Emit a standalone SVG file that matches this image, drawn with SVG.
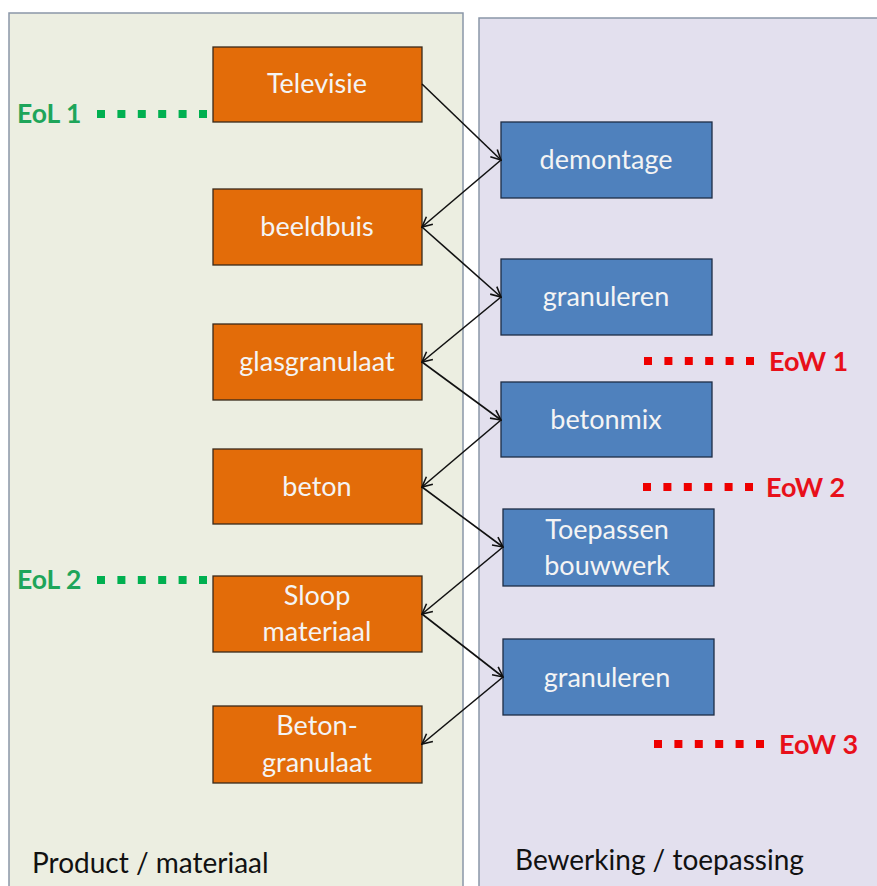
<svg xmlns="http://www.w3.org/2000/svg" width="877" height="886" viewBox="0 0 877 886">
<defs>
<style>
.panelL{fill:#ECEEE1;stroke:#8A97A8;stroke-width:1.5}
.panelR{fill:#E3E0EE;stroke:#8A97A8;stroke-width:1.5}
.org{fill:#E36C09;stroke:#3A2A1A;stroke-width:1.3}
.blu{fill:#4F81BD;stroke:#1E2D45;stroke-width:1.3}
.bt{font-family:Lato,"Open Sans",sans-serif;font-size:27px;fill:#F4F4F4;text-anchor:middle}
.pl{font-family:Lato,"Open Sans",sans-serif;font-size:28px;fill:#111}
.eol{font-family:Lato,"Open Sans",sans-serif;font-size:26.5px;font-weight:bold;fill:#1EA55A}
.eow{font-family:Lato,"Open Sans",sans-serif;font-size:27px;font-weight:bold;fill:#E8101A}
.gd{stroke:#00B050;stroke-width:8;stroke-dasharray:8 12.4}
.rd{stroke:#EE0000;stroke-width:8;stroke-dasharray:8 12.4}
.c{stroke:#111;stroke-width:1.6;fill:none;marker-end:url(#ah)}
</style>
<marker id="ah" viewBox="0 0 12 12" refX="11" refY="6" markerWidth="12" markerHeight="12" markerUnits="userSpaceOnUse" orient="auto">
<path d="M1,1 L11,6 L1,11" fill="none" stroke="#111" stroke-width="1.6"/>
</marker>
</defs>
<rect width="877" height="886" fill="#FFFFFF"/>
<rect class="panelL" x="9" y="13" width="454" height="890"/>
<rect class="panelR" x="479" y="18" width="420" height="890"/>
<text class="pl" x="32" y="873">Product / materiaal</text>
<text class="pl" x="515" y="870">Bewerking / toepassing</text>

<g id="eol1"><line class="gd" x1="97" y1="114" x2="207" y2="114"/><text class="eol" x="17" y="123">EoL 1</text></g>
<g id="eol2"><line class="gd" x1="97" y1="580" x2="207" y2="580"/><text class="eol" x="17" y="589">EoL 2</text></g>
<g id="eow1"><line class="rd" x1="644" y1="361" x2="754" y2="361"/><text class="eow" x="769" y="371">EoW 1</text></g>
<g id="eow2"><line class="rd" x1="643" y1="487" x2="753" y2="487"/><text class="eow" x="766" y="497">EoW 2</text></g>
<g id="eow3"><line class="rd" x1="654" y1="744" x2="764" y2="744"/><text class="eow" x="779" y="754">EoW 3</text></g>

<g id="televisie"><rect class="org" x="213" y="47" width="209" height="75"/><text class="bt" x="317" y="93">Televisie</text></g>
<g id="beeldbuis"><rect class="org" x="213" y="189" width="209" height="76"/><text class="bt" x="317" y="236">beeldbuis</text></g>
<g id="glasgranulaat"><rect class="org" x="213" y="324" width="209" height="76"/><text class="bt" x="317" y="371">glasgranulaat</text></g>
<g id="beton"><rect class="org" x="213" y="449" width="209" height="75"/><text class="bt" x="317" y="496">beton</text></g>
<g id="sloop"><rect class="org" x="213" y="576" width="209" height="76"/><text class="bt" x="317" y="605">Sloop</text><text class="bt" x="317" y="641">materiaal</text></g>
<g id="betongranulaat"><rect class="org" x="213" y="706" width="209" height="77"/><text class="bt" x="317" y="735">Beton-</text><text class="bt" x="317" y="772">granulaat</text></g>

<g id="demontage"><rect class="blu" x="501" y="122" width="211" height="76"/><text class="bt" x="606" y="169">demontage</text></g>
<g id="granuleren1"><rect class="blu" x="501" y="259" width="211" height="76"/><text class="bt" x="606" y="306">granuleren</text></g>
<g id="betonmix"><rect class="blu" x="501" y="382" width="211" height="75"/><text class="bt" x="606" y="429">betonmix</text></g>
<g id="toepassen"><rect class="blu" x="503" y="509" width="211" height="77"/><text class="bt" x="607" y="539">Toepassen</text><text class="bt" x="607" y="575">bouwwerk</text></g>
<g id="granuleren2"><rect class="blu" x="503" y="639" width="211" height="76"/><text class="bt" x="607" y="687">granuleren</text></g>

<g id="connectors">
<line class="c" x1="422" y1="84" x2="501" y2="160"/>
<line class="c" x1="501" y1="160" x2="422" y2="227"/>
<line class="c" x1="422" y1="227" x2="501" y2="297"/>
<line class="c" x1="501" y1="297" x2="422" y2="362"/>
<line class="c" x1="422" y1="362" x2="501" y2="420"/>
<line class="c" x1="501" y1="420" x2="422" y2="487"/>
<line class="c" x1="422" y1="487" x2="503" y2="547"/>
<line class="c" x1="503" y1="547" x2="422" y2="614"/>
<line class="c" x1="422" y1="614" x2="503" y2="677"/>
<line class="c" x1="503" y1="677" x2="422" y2="744"/>
</g>
</svg>
